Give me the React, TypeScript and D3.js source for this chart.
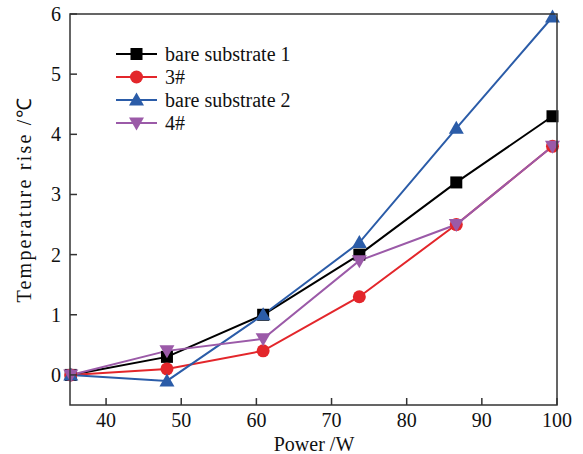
import React from "react";
import * as d3 from "d3";

const powers = [35.3, 48.1, 60.9, 73.7, 86.6, 99.4];
const bare1 = [0, 0.3, 1.0, 2.0, 3.2, 4.3];
const s3 = [0, 0.1, 0.4, 1.3, 2.5, 3.8];
const bare2 = [0, -0.1, 1.0, 2.2, 4.1, 5.95];
const s4 = [0, 0.4, 0.6, 1.9, 2.5, 3.8];
const seriesNames = ["bare substrate 1", "3#", "bare substrate 2", "4#"];
const xTicks = [40, 50, 60, 70, 80, 90, 100];
const yTicks = [0, 1, 2, 3, 4, 5, 6];

const colors = ["#000000", "#e3262b", "#2b5ca8", "#9b5aa8"];
const shapes = ["square", "circle", "triangle", "triangleDown"];

const W = 583, H = 454;
const left = 70, right = 557, top = 14, bottom = 405;
const font = "'Liberation Serif', 'Times New Roman', serif";

function Marker({ shape, x, y, color }: { shape: string; x: number; y: number; color: string }) {
  if (shape === "square") return <rect x={x - 6} y={y - 6} width={12} height={12} fill={color} />;
  if (shape === "circle") return <circle cx={x} cy={y} r={6.5} fill={color} />;
  if (shape === "triangle")
    return <path d={`M${x},${y - 7.5}L${x + 7.5},${y + 5.5}L${x - 7.5},${y + 5.5}Z`} fill={color} />;
  return <path d={`M${x},${y + 7.5}L${x + 7.5},${y - 5.5}L${x - 7.5},${y - 5.5}Z`} fill={color} />;
}

export default function App() {
  const x = d3.scaleLinear().domain([35.2, 100]).range([left, right]);
  const y = d3.scaleLinear().domain([-0.5, 6]).range([bottom, top]);
  const data = [bare1, s3, bare2, s4];
  const line = d3
    .line<number>()
    .x((_, i) => x(powers[i]))
    .y((d) => y(d));

  return (
    <svg width={W} height={H} style={{ position: "absolute", left: 0, top: 0, background: "#fff" }} fontFamily={font}>
      <rect x={0} y={0} width={W} height={H} fill="#fff" />
      {data.map((s, k) => (
        <path key={"l" + k} d={line(s) || ""} fill="none" stroke={colors[k]} strokeWidth={2} />
      ))}
      {data.map((s, k) =>
        s.map((v, i) => <Marker key={`m${k}-${i}`} shape={shapes[k]} x={x(powers[i])} y={y(v)} color={colors[k]} />)
      )}
      <rect x={left} y={top} width={right - left} height={bottom - top} fill="none" stroke="#333" strokeWidth={1.5} />
      {xTicks.map((t) => (
        <g key={"xt" + t}>
          <line x1={x(t)} x2={x(t)} y1={bottom} y2={bottom - 7} stroke="#333" strokeWidth={1.5} />
          <text x={x(t)} y={427} textAnchor="middle" fontSize={20} fill="#111">
            {t}
          </text>
        </g>
      ))}
      {yTicks.map((t) => (
        <g key={"yt" + t}>
          <line x1={left} x2={left + 7} y1={y(t)} y2={y(t)} stroke="#333" strokeWidth={1.5} />
          <text x={61} y={y(t) + 7} textAnchor="end" fontSize={20} fill="#111">
            {t}
          </text>
        </g>
      ))}
      <text x={314} y={451} textAnchor="middle" fontSize={20} fill="#111">
        Power /W
      </text>
      <text
        transform="translate(31,200) rotate(-90)"
        textAnchor="middle"
        fontSize={20}
        fill="#111"
        textLength={205}
        lengthAdjust="spacing"
      >
        Temperature rise /℃
      </text>
      {seriesNames.map((n, k) => {
        const ly = 54 + k * 23;
        return (
          <g key={"lg" + k}>
            <line x1={116} x2={157} y1={ly} y2={ly} stroke={colors[k]} strokeWidth={2} />
            <Marker shape={shapes[k]} x={136.5} y={ly} color={colors[k]} />
            <text x={165} y={ly + 7} fontSize={20} fill="#111">
              {n}
            </text>
          </g>
        );
      })}
    </svg>
  );
}
